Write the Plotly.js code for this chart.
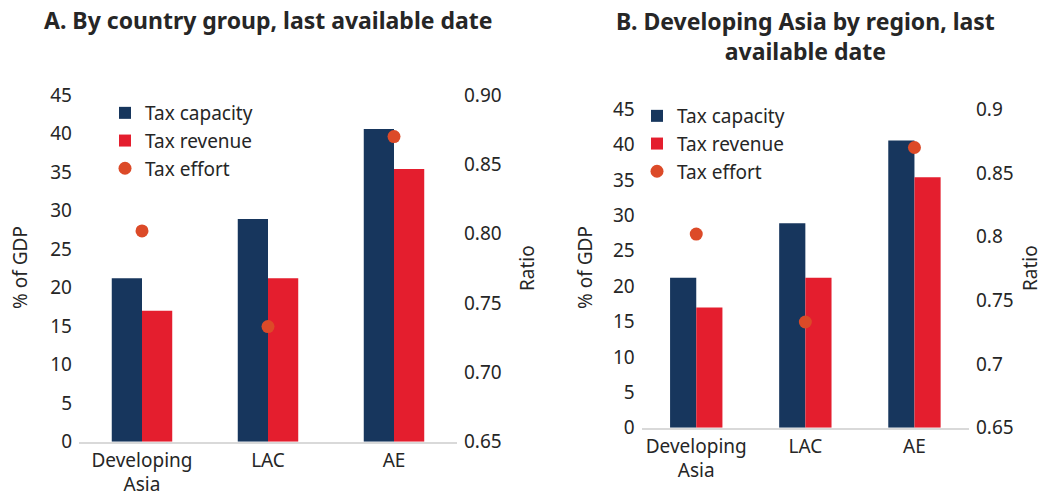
<!DOCTYPE html>
<html>
<head>
<meta charset="utf-8">
<script src="https://cdn.plot.ly/plotly-3.0.1.min.js"></script>
<style>
  html, body { margin: 0; padding: 0; background: #fff; }
  #plots { width: 1044px; height: 497px; }
</style>
</head>
<body>
<div id="plots"></div>
<script>
const groups = ["Developing<br>Asia", "LAC", "AE"];
const taxCapacity = [21.2, 28.9, 40.6];
const taxRevenue = [17.0, 21.2, 35.4];
const taxEffort = [0.802, 0.733, 0.870];

const navy = "#17365d";
const red = "#e41e2e";
const orange = "#dc4a28";
const ink = "#262626";
const font = "Noto Sans";

const W = 1044, H = 497;
const px = v => v / W;
const py = v => (H - v) / H;

function panel(xa, ya, ya2, legend, show) {
  return [
    { type: "bar", name: "Tax capacity", x: groups, y: taxCapacity,
      xaxis: xa, yaxis: ya, legend: legend, showlegend: show,
      marker: { color: navy }, hoverinfo: "none" },
    { type: "bar", name: "Tax revenue", x: groups, y: taxRevenue,
      xaxis: xa, yaxis: ya, legend: legend, showlegend: show,
      marker: { color: red }, hoverinfo: "none" },
    { type: "scatter", mode: "markers", name: "Tax effort", x: groups, y: taxEffort,
      xaxis: xa, yaxis: ya2, legend: legend, showlegend: show,
      marker: { color: orange, size: 13 }, hoverinfo: "none" }
  ];
}

const traces = [
  ...panel("x", "y", "y2", "legend", true),
  ...panel("x2", "y3", "y4", "legend2", true)
];

const tickFont = { family: font, size: 19, color: ink };

function xaxis(d, anchor) {
  return { domain: d, anchor: anchor, showline: true, linecolor: "#d9d9d9", linewidth: 2,
    ticks: "", tickfont: tickFont, fixedrange: true, showgrid: false };
}
function leftAxis(d, anchor) {
  return { domain: d, anchor: anchor, range: [0, 45], dtick: 5, showgrid: false,
    zeroline: false, tickfont: tickFont, ticklabelstandoff: 6, fixedrange: true };
}
function rightAxis(over, anchor, fmt) {
  return { overlaying: over, anchor: anchor, side: "right", range: [0.65, 0.90], dtick: 0.05,
    tickformat: fmt, showgrid: false, zeroline: false, tickfont: tickFont,
    ticklabelstandoff: 6, fixedrange: true };
}

const legendBase = { font: { family: font, size: 19, color: ink }, bgcolor: "rgba(0,0,0,0)",
  xanchor: "left", yanchor: "top", tracegroupgap: 0, itemclick: false };

const ann = (text, x, y, extra) => Object.assign({ text: text, x: px(x), y: py(y),
  xref: "paper", yref: "paper", xanchor: "center", yanchor: "middle", showarrow: false,
  font: { family: font, size: 19, color: ink } }, extra || {});

const titleFont = { family: font, size: 23, color: ink };

const layout = {
  width: W, height: H,
  margin: { l: 0, r: 0, t: 0, b: 0 },
  paper_bgcolor: "#fff", plot_bgcolor: "#fff",
  barmode: "group", bargap: 0.52, bargroupgap: 0,
  hovermode: false,
  xaxis: xaxis([px(79), px(457)], "y"),
  yaxis: leftAxis([py(441.7), py(95)], "x"),
  yaxis2: rightAxis("y", "x", ".2f"),
  xaxis2: xaxis([px(641.7), px(969)], "y3"),
  yaxis3: leftAxis([py(427.7), py(109.3)], "x2"),
  yaxis4: rightAxis("y3", "x2", ""),
  legend: Object.assign({ x: px(105), y: py(94) }, legendBase),
  legend2: Object.assign({ x: px(637), y: py(97) }, legendBase),
  annotations: [
    ann("<b>A. By country group, last available date</b>", 268, 20, { font: titleFont }),
    ann("<b>B. Developing Asia by region, last<br>available date</b>", 805, 36, { font: titleFont }),
    ann("% of GDP", 20, 268, { textangle: -90 }),
    ann("Ratio", 527, 268, { textangle: -90 }),
    ann("% of GDP", 585, 268, { textangle: -90 }),
    ann("Ratio", 1030, 268, { textangle: -90 })
  ]
};

Plotly.newPlot("plots", traces, layout, { displayModeBar: false, staticPlot: true });
</script>
</body>
</html>
